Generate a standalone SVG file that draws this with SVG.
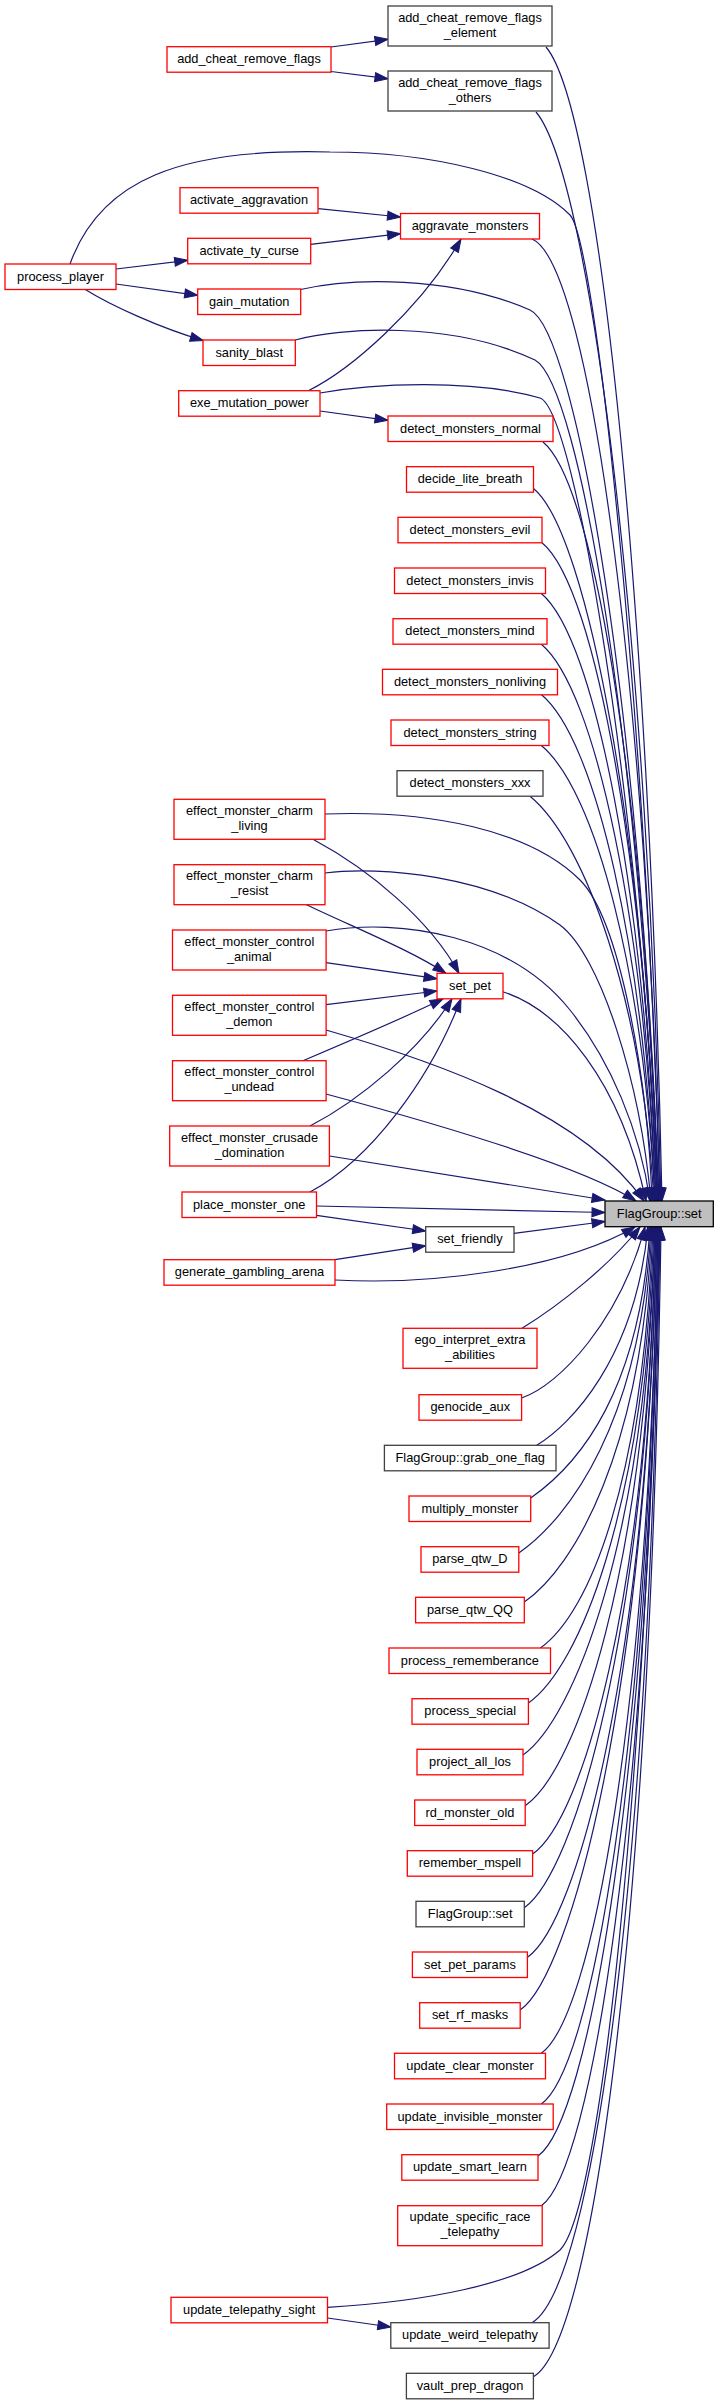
<svg xmlns="http://www.w3.org/2000/svg" width="719" height="2405" viewBox="0 0 719 2405">
<defs>
<marker id="ah" markerUnits="userSpaceOnUse" markerWidth="14" markerHeight="10" refX="13" refY="4.5" orient="auto" overflow="visible">
<path d="M0,0 L13,4.5 L0,9 z" fill="#191970" stroke="#191970" stroke-width="1"/>
</marker>
</defs>
<style>
.e path{fill:none;stroke:#191970;stroke-width:1.2;marker-end:url(#ah)}
.r rect{fill:#fff;stroke:#ff0000;stroke-width:1.3}
.k rect{fill:#fff;stroke:#404040;stroke-width:1.3}
.m rect{fill:#bfbfbf;stroke:#000;stroke-width:1.3}
text{font-family:"Liberation Sans",Arial,Helvetica,sans-serif;font-size:12.8px;fill:#000;text-anchor:middle}
</style>
<rect width="719" height="2405" fill="#fff"/>
<g id="edges" class="e">
<path d="M331,47 L388,39.3"/>
<path d="M331,71.5 L388,78.7"/>
<path d="M546,47 C601,112 650,624 662,1201"/>
<path d="M536,112 C591,177 649,656 661,1201"/>
<path d="M70,264 C100,180 180,148 330,152 C430,152 530,175 570,215 C595,240 645,700 660,1201"/>
<path d="M318.3,208.7 L400.5,217"/>
<path d="M310.6,244.3 L400.5,233.7"/>
<path d="M532,239 C592,264 648,720 660,1201"/>
<path d="M116,269 L187.7,260.3"/>
<path d="M116,284 L197.7,295.3"/>
<path d="M85.3,289.5 C110,305 160,328 203.3,340.5"/>
<path d="M300.5,289.5 C350,278 450,275 530,310 C575,330 640,700 659,1201"/>
<path d="M295.3,340 C340,328 450,320 535,360 C580,385 640,750 659,1201"/>
<path d="M308.3,390.7 C350,370 420,310 461,239"/>
<path d="M320,393 C370,384 470,378 540,398 C575,410 640,800 658,1201"/>
<path d="M320,411 L388,420.3"/>
<path d="M543,442 C598,487 646,821.5 658,1201"/>
<path d="M533.5,488.5 C588.5,533.5 645,845 657,1201"/>
<path d="M542,542.7 C597,587.7 645,872 657,1201"/>
<path d="M541,593.3 C596,638.3 644,897 656,1201"/>
<path d="M541,644 C596,689 644,922.5 656,1201"/>
<path d="M541,694.3 C596,739.3 643,948 655,1201"/>
<path d="M541,745.3 C596,790.3 643,973 655,1201"/>
<path d="M530,796.3 C585,841.3 642,999 654,1201"/>
<path d="M313,839.3 C370,870 430,920 459,973.3"/>
<path d="M324.8,814 C430,810 530,830 580,880 C620,920 648,1080 652,1201"/>
<path d="M306.4,904.7 C360,930 410,950 446,973.3"/>
<path d="M324.8,873 C380,866 490,875 560,925 C600,955 640,1080 651,1201"/>
<path d="M326,962.7 L437,978.7"/>
<path d="M326,931 C400,918 510,935 570,1010 C610,1060 640,1130 650,1201"/>
<path d="M326,1004.7 L437,991"/>
<path d="M326,1030 C430,1060 580,1110 644,1201"/>
<path d="M303,1060.7 C340,1045 410,1015 443,998.8"/>
<path d="M326,1094 C430,1122 580,1165 636,1201"/>
<path d="M310,1126 C360,1100 420,1050 452,998.8"/>
<path d="M329.4,1156 L605,1200"/>
<path d="M310,1192 C370,1160 430,1080 461,998.8"/>
<path d="M316.5,1206 L605,1212.5"/>
<path d="M316.5,1215.3 L425.7,1231"/>
<path d="M502.8,991.7 C560,1010 620,1080 646,1201"/>
<path d="M514,1233.3 L605,1221.5"/>
<path d="M335,1259.7 L425.7,1245.7"/>
<path d="M335,1280 C430,1285 560,1270 635,1227"/>
<path d="M522,1328.3 C560,1305 610,1265 640,1227"/>
<path d="M521.6,1398 C560,1385 620,1320 645,1227"/>
<path d="M536.7,1445.3 C570,1425 635,1360 648,1227"/>
<path d="M530.7,1498 C580.7,1463 640,1389.6 650,1227"/>
<path d="M518.8,1553 C568.8,1518 641,1422.6 651,1227"/>
<path d="M524.3,1602 C574.3,1567 642,1452 652,1227"/>
<path d="M540.4,1648 C590.4,1612.7 643,1479.4 653,1227"/>
<path d="M528.4,1703 C578.4,1668 644,1512.6 654,1227"/>
<path d="M523,1755 C573,1720 645,1543.8 655,1227"/>
<path d="M525.2,1805.7 C576.1,1770.7 645,1574.2 655,1227"/>
<path d="M532.6,1854 C582.6,1819 646,1603.2 656,1227"/>
<path d="M524.3,1907.7 C574.3,1872.7 646,1635.4 656,1227"/>
<path d="M527.5,1957.3 C577.5,1922.3 647,1665.2 657,1227"/>
<path d="M520.2,2010 C570.2,1975 647,1696.8 657,1227"/>
<path d="M541.3,2053.3 C591.3,2017.7 648,1722.4 658,1227"/>
<path d="M541.3,2104 C591.3,2069 648,1753.2 658,1227"/>
<path d="M538,2156 C588,2121 649,1784.4 659,1227"/>
<path d="M541.3,2205.7 C591.3,2170.7 649,1814.2 659,1227"/>
<path d="M327.5,2307.3 C420,2302 520,2285 560,2250 C600,2210 645,1800 660,1227"/>
<path d="M327.5,2318 L390.8,2327"/>
<path d="M532,2322.7 C592,2287.7 650,1884.4 660,1227"/>
<path d="M533.5,2376.7 C593.5,2341.7 651,1916.8 661,1227"/>
</g>
<g id="n_main" class="m"><rect x="605" y="1201" width="108.3" height="25.7"/><text x="659.2" y="1217.9">FlagGroup::set</text></g>
<g id="n_ac_elem" class="k"><rect x="388" y="6" width="164" height="40"/><text x="470" y="21.5">add_cheat_remove_flags</text><text x="470" y="36.7">_element</text></g>
<g id="n_ac_others" class="k"><rect x="388" y="71" width="164" height="40"/><text x="470" y="86.5">add_cheat_remove_flags</text><text x="470" y="101.7">_others</text></g>
<g id="n_acrf" class="r"><rect x="167" y="46.7" width="164" height="25.5"/><text x="249" y="63.4">add_cheat_remove_flags</text></g>
<g id="n_act_aggr" class="r"><rect x="180" y="187.7" width="138" height="25.5"/><text x="249" y="204.4">activate_aggravation</text></g>
<g id="n_aggr" class="r"><rect x="400.5" y="213.5" width="139" height="25.5"/><text x="470" y="230.2">aggravate_monsters</text></g>
<g id="n_ty_curse" class="r"><rect x="187.7" y="238.3" width="123" height="25.5"/><text x="249.2" y="255">activate_ty_curse</text></g>
<g id="n_process_player" class="r"><rect x="5" y="264" width="111" height="25.5"/><text x="60.5" y="280.7">process_player</text></g>
<g id="n_gain_mutation" class="r"><rect x="197.7" y="289" width="103" height="25.5"/><text x="249.2" y="305.7">gain_mutation</text></g>
<g id="n_sanity_blast" class="r"><rect x="203" y="340" width="92.3" height="25.5"/><text x="249.2" y="356.7">sanity_blast</text></g>
<g id="n_exe" class="r"><rect x="178.7" y="390.7" width="141.3" height="25.5"/><text x="249.4" y="407.4">exe_mutation_power</text></g>
<g id="n_dm_normal" class="r"><rect x="388" y="416" width="165" height="25.5"/><text x="470.5" y="432.7">detect_monsters_normal</text></g>
<g id="n_decide" class="r"><rect x="406.5" y="466.7" width="127" height="25.5"/><text x="470" y="483.4">decide_lite_breath</text></g>
<g id="n_dm_evil" class="r"><rect x="398" y="517.3" width="144" height="25.5"/><text x="470" y="534">detect_monsters_evil</text></g>
<g id="n_dm_invis" class="r"><rect x="394.5" y="568" width="151" height="25.5"/><text x="470" y="584.7">detect_monsters_invis</text></g>
<g id="n_dm_mind" class="r"><rect x="393" y="618.7" width="154" height="25.5"/><text x="470" y="635.4">detect_monsters_mind</text></g>
<g id="n_dm_nonliving" class="r"><rect x="382.5" y="669.3" width="175" height="25.5"/><text x="470" y="686">detect_monsters_nonliving</text></g>
<g id="n_dm_string" class="r"><rect x="391" y="720" width="158" height="25.5"/><text x="470" y="736.7">detect_monsters_string</text></g>
<g id="n_dm_xxx" class="k"><rect x="397" y="770.7" width="146" height="25.5"/><text x="470" y="787.4">detect_monsters_xxx</text></g>
<g id="n_charm_living" class="r"><rect x="174" y="799.3" width="151" height="40"/><text x="249.5" y="814.8">effect_monster_charm</text><text x="249.5" y="830">_living</text></g>
<g id="n_charm_resist" class="r"><rect x="174" y="864.7" width="151" height="40"/><text x="249.5" y="880.2">effect_monster_charm</text><text x="249.5" y="895.4">_resist</text></g>
<g id="n_ctrl_animal" class="r"><rect x="172.5" y="930" width="153.6" height="40"/><text x="249.3" y="945.5">effect_monster_control</text><text x="249.3" y="960.7">_animal</text></g>
<g id="n_set_pet" class="r"><rect x="437" y="973.3" width="66" height="25.5"/><text x="470" y="990">set_pet</text></g>
<g id="n_ctrl_demon" class="r"><rect x="172.5" y="995.3" width="153.6" height="40"/><text x="249.3" y="1010.8">effect_monster_control</text><text x="249.3" y="1026">_demon</text></g>
<g id="n_ctrl_undead" class="r"><rect x="172.5" y="1060.7" width="153.6" height="40"/><text x="249.3" y="1076.2">effect_monster_control</text><text x="249.3" y="1091.4">_undead</text></g>
<g id="n_crusade" class="r"><rect x="169.7" y="1126" width="159.7" height="40"/><text x="249.5" y="1141.5">effect_monster_crusade</text><text x="249.5" y="1156.7">_domination</text></g>
<g id="n_place" class="r"><rect x="182" y="1192" width="134.5" height="25.5"/><text x="249.2" y="1208.7">place_monster_one</text></g>
<g id="n_set_friendly" class="k"><rect x="425.7" y="1226.7" width="88.3" height="25.5"/><text x="469.9" y="1243.4">set_friendly</text></g>
<g id="n_gambling" class="r"><rect x="164" y="1259.7" width="171" height="25.5"/><text x="249.5" y="1276.4">generate_gambling_arena</text></g>
<g id="n_ego" class="r"><rect x="403" y="1328.3" width="134" height="40"/><text x="470" y="1343.8">ego_interpret_extra</text><text x="470" y="1359">_abilities</text></g>
<g id="n_genocide" class="r"><rect x="419" y="1394.7" width="102.6" height="25.5"/><text x="470.3" y="1411.4">genocide_aux</text></g>
<g id="n_grab_one" class="k"><rect x="384.4" y="1445.3" width="171.6" height="25.5"/><text x="470.2" y="1462">FlagGroup::grab_one_flag</text></g>
<g id="n_multiply" class="r"><rect x="409" y="1496" width="121.7" height="25.5"/><text x="469.9" y="1512.7">multiply_monster</text></g>
<g id="n_parse_D" class="r"><rect x="421" y="1546.7" width="97.8" height="25.5"/><text x="469.9" y="1563.4">parse_qtw_D</text></g>
<g id="n_parse_QQ" class="r"><rect x="415.6" y="1597.3" width="108.7" height="25.5"/><text x="470" y="1614">parse_qtw_QQ</text></g>
<g id="n_remember" class="r"><rect x="389" y="1648" width="161.5" height="25.5"/><text x="469.8" y="1664.7">process_rememberance</text></g>
<g id="n_special" class="r"><rect x="412" y="1698.7" width="116.4" height="25.5"/><text x="470.2" y="1715.4">process_special</text></g>
<g id="n_project" class="r"><rect x="417" y="1749.3" width="106" height="25.5"/><text x="470" y="1766">project_all_los</text></g>
<g id="n_rd_monster" class="r"><rect x="414.7" y="1800" width="110.5" height="25.5"/><text x="470" y="1816.7">rd_monster_old</text></g>
<g id="n_mspell" class="r"><rect x="407.3" y="1850.7" width="125.3" height="25.5"/><text x="470" y="1867.4">remember_mspell</text></g>
<g id="n_fgset2" class="k"><rect x="416" y="1901.3" width="108.3" height="25.5"/><text x="470.2" y="1918">FlagGroup::set</text></g>
<g id="n_pet_params" class="r"><rect x="412.4" y="1952" width="115" height="25.5"/><text x="469.9" y="1968.7">set_pet_params</text></g>
<g id="n_rf_masks" class="r"><rect x="419.7" y="2002.7" width="100.5" height="25.5"/><text x="470" y="2019.4">set_rf_masks</text></g>
<g id="n_upd_clear" class="r"><rect x="394.5" y="2053.3" width="151" height="25.5"/><text x="470" y="2070">update_clear_monster</text></g>
<g id="n_upd_invis" class="r"><rect x="386.7" y="2104" width="166.5" height="25.5"/><text x="470" y="2120.7">update_invisible_monster</text></g>
<g id="n_upd_smart" class="r"><rect x="401.8" y="2154.7" width="136.2" height="25.5"/><text x="469.9" y="2171.4">update_smart_learn</text></g>
<g id="n_upd_race" class="r"><rect x="397.7" y="2205.7" width="144.5" height="40"/><text x="470" y="2221.2">update_specific_race</text><text x="470" y="2236.4">_telepathy</text></g>
<g id="n_tele_sight" class="r"><rect x="171" y="2297.3" width="156.5" height="25.5"/><text x="249.2" y="2314">update_telepathy_sight</text></g>
<g id="n_weird" class="k"><rect x="390.8" y="2322.7" width="158.3" height="25.5"/><text x="470" y="2339.4">update_weird_telepathy</text></g>
<g id="n_vault" class="k"><rect x="406.4" y="2373.3" width="127" height="25.5"/><text x="470" y="2390">vault_prep_dragon</text></g>
</svg>
